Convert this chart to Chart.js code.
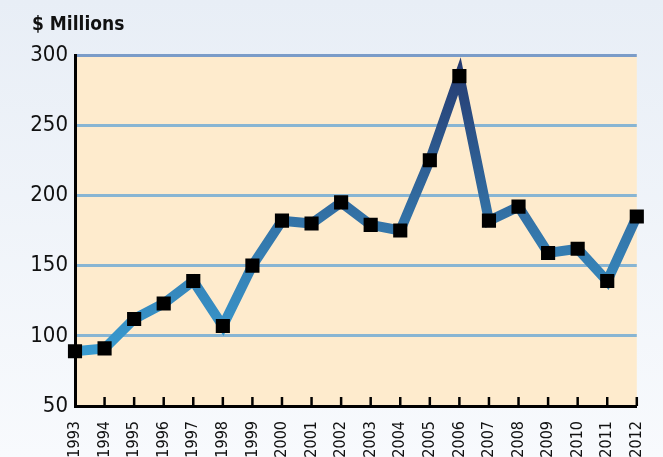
<!DOCTYPE html>
<html>
<head>
<meta charset="utf-8">
<script src="https://cdn.jsdelivr.net/npm/chart.js@4"></script>
<style>
html, body { margin: 0; padding: 0; }
body { width: 663px; height: 457px; background: linear-gradient(#e8eef6, #f8fafd); overflow: hidden; }
#wrap { position: relative; width: 663px; height: 457px; }
</style>
</head>
<body>
<div id="wrap"><canvas id="chart" width="663" height="457"></canvas></div>
<script>
const years = ['1993','1994','1995','1996','1997','1998','1999','2000','2001','2002',
  '2003','2004','2005','2006','2007','2008','2009','2010','2011','2012'];
const millions = [89, 91, 112, 123, 139, 107, 150, 182, 180, 195,
  179, 175, 225, 285, 182, 192, 159, 162, 139, 185];
const yTicks = [50, 100, 150, 200, 250, 300];

const narrow = "'Liberation Sans Narrow', 'DejaVu Sans Condensed', 'Roboto', sans-serif";

// peach plot area, title and the little inward tick marks
const decor = {
  id: 'decor',
  beforeDraw(chart) {
    const { ctx, chartArea: a } = chart;
    ctx.save();
    ctx.fillStyle = '#feebcd';
    ctx.fillRect(a.left, a.top, a.right - a.left, a.bottom - a.top);
    ctx.fillStyle = '#111';
    ctx.font = "bold 19px " + narrow;
    ctx.textBaseline = 'alphabetic';
    ctx.fillText('$ Millions', 32, 30);
    ctx.restore();
  },
  afterDraw(chart) {
    const { ctx, chartArea: a } = chart;
    const x = chart.scales.x;
    ctx.save();
    ctx.strokeStyle = '#000';
    ctx.lineWidth = 2.5;
    for (let i = 1; i < years.length; i++) {
      const px = x.getPixelForValue(i);
      ctx.beginPath();
      ctx.moveTo(px, a.bottom - 9);
      ctx.lineTo(px, a.bottom);
      ctx.stroke();
    }
    ctx.restore();
  }
};

function lineGradient(context) {
  const { chart } = context;
  const a = chart.chartArea;
  if (!a) return '#3578ad';
  const g = chart.ctx.createLinearGradient(0, a.bottom, 0, a.top);
  g.addColorStop(0, '#3aaae0');
  g.addColorStop(0.5, '#3476aa');
  g.addColorStop(1, '#25376d');
  return g;
}

new Chart(document.getElementById('chart'), {
  type: 'line',
  data: {
    labels: years,
    datasets: [{
      data: millions,
      borderColor: lineGradient,
      borderWidth: 10,
      borderJoinStyle: 'miter',
      borderCapStyle: 'butt',
      tension: 0,
      pointStyle: 'rect',
      pointRadius: 10,
      pointBorderWidth: 0,
      pointBackgroundColor: '#000',
      pointBorderColor: '#000',
      fill: false
    }]
  },
  options: {
    responsive: false,
    animation: false,
    layout: { padding: { top: 55, right: 8, left: 0, bottom: 0 } },
    plugins: { legend: { display: false }, tooltip: { enabled: false } },
    scales: {
      x: {
        offset: false,
        grid: { display: false },
        border: { display: true, color: '#000', width: 3 },
        ticks: {
          color: '#111',
          font: { family: narrow, size: 16 },
          maxRotation: 90,
          minRotation: 90,
          padding: 7,
          autoSkip: false
        },
        afterFit(scale) { scale.height = 51; }
      },
      y: {
        min: 50,
        max: 300,
        afterBuildTicks(scale) { scale.ticks = yTicks.map(v => ({ value: v })); },
        grid: {
          drawTicks: false,
          lineWidth: 3,
          color: ctx => ctx.tick && ctx.tick.value === 300 ? '#7b9cc8' :
            (ctx.tick && ctx.tick.value === 50 ? 'rgba(0,0,0,0)' : '#88b5d3')
        },
        border: { display: true, color: '#000', width: 3 },
        ticks: {
          color: '#111',
          font: { family: narrow, size: 22 },
          padding: 7
        },
        afterFit(scale) { scale.width = 75; }
      }
    }
  },
  plugins: [decor]
});
</script>
</body>
</html>
